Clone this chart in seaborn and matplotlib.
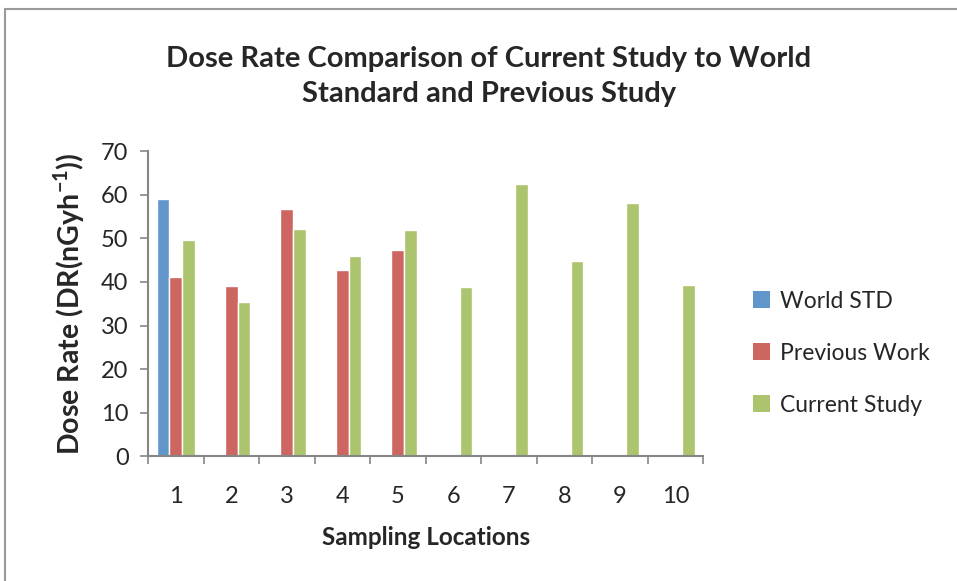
import matplotlib
matplotlib.use("Agg")
import matplotlib.pyplot as plt
import numpy as np
import pandas as pd
import seaborn as sns
from matplotlib.patches import Patch, Rectangle

locations = ["1", "2", "3", "4", "5", "6", "7", "8", "9", "10"]
world_std = [59.0, np.nan, np.nan, np.nan, np.nan, np.nan, np.nan, np.nan, np.nan, np.nan]
previous_work = [41.2, 39.1, 56.6, 42.7, 47.4, np.nan, np.nan, np.nan, np.nan, np.nan]
current_study = [49.5, 35.3, 52.2, 45.9, 51.9, 38.8, 62.5, 44.7, 58.1, 39.4]

series_names = ["World STD", "Previous Work", "Current Study"]
series_colors = ["#6096C9", "#CD6661", "#ABC46D"]
y_ticks = [0, 10, 20, 30, 40, 50, 60, 70]

df = pd.DataFrame(
    {
        "location": locations * 3,
        "series": np.repeat(series_names, len(locations)),
        "dose_rate": world_std + previous_work + current_study,
    }
)

sns.set_style("white")
plt.rcParams["font.family"] = ["Lato", "DejaVu Sans"]
plt.rcParams["mathtext.fontset"] = "custom"
plt.rcParams["mathtext.rm"] = "Lato"
plt.rcParams["mathtext.bf"] = "Lato:bold"

fig = plt.figure(figsize=(9.57, 5.81), dpi=100)
ax = fig.add_axes([0.1547, 0.2143, 0.58, 0.5258])

sns.barplot(
    data=df.dropna(),
    x="location",
    y="dose_rate",
    hue="series",
    order=locations,
    hue_order=series_names,
    palette=series_colors,
    width=0.69,
    gap=0,
    saturation=1,
    errorbar=None,
    legend=False,
    ax=ax,
)

ax.set_xlim(-0.5, len(locations) - 0.5)
ax.set_ylim(0, 70)
ax.set_yticks(y_ticks)
ax.tick_params(axis="y", labelsize=17, length=6, width=1.2, color="#868686",
               left=True, pad=8)
ax.tick_params(axis="x", which="major", labelsize=17, length=0, pad=21)
ax.set_xticks(np.arange(-0.5, len(locations)), minor=True)
ax.tick_params(axis="x", which="minor", length=6, width=1.2, color="#868686",
               bottom=True)

for side in ["top", "right"]:
    ax.spines[side].set_visible(False)
for side in ["left", "bottom"]:
    ax.spines[side].set_color("#868686")
    ax.spines[side].set_linewidth(1.5)

ax.set_xlabel("Sampling Locations", fontsize=17.5, fontweight="bold", labelpad=14)
ax.set_ylabel(r"Dose Rate (DR(nGyh$^{\mathbf{-1}}$))", fontsize=20.5,
              fontweight="bold", labelpad=10)

fig.text(0.511, 0.868, "Dose Rate Comparison of Current Study to World\nStandard and Previous Study",
         ha="center", va="center", fontsize=21, fontweight="bold",
         linespacing=1.42)

handles = [Patch(facecolor=c, edgecolor="none") for c in series_colors]
fig.legend(
    handles,
    series_names,
    loc="center left",
    bbox_to_anchor=(0.765, 0.392),
    frameon=False,
    fontsize=16.5,
    handlelength=0.75,
    handleheight=0.75,
    handletextpad=0.45,
    labelspacing=1.35,
)

fig.patches.append(
    Rectangle((5 / 957, -0.1), 1.2, 1.1 - 9 / 581, transform=fig.transFigure,
              fill=False, edgecolor="#9a9a9a", linewidth=1.5)
)

fig.savefig("out.png", dpi=100)
